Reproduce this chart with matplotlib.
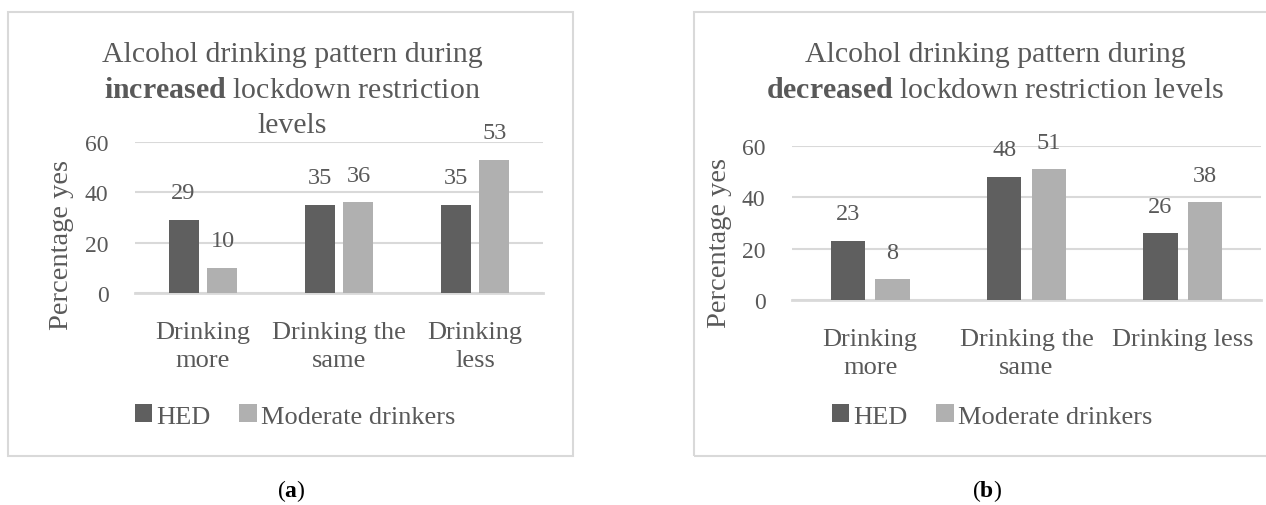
import matplotlib
matplotlib.use("Agg")
from matplotlib import pyplot as plt
from matplotlib import patches as pts
import numpy as np

plt.rcParams['font.family'] = ['Liberation Serif', 'DejaVu Serif']
plt.rcParams['mathtext.fontset'] = 'custom'
plt.rcParams['mathtext.rm'] = 'Liberation Serif'
plt.rcParams['mathtext.bf'] = 'Liberation Serif:bold'

# data
series = ['HED', 'Moderate drinkers']
cats_a = ['Drinking\nmore', 'Drinking the\nsame', 'Drinking\nless']
cats_b = ['Drinking\nmore', 'Drinking the\nsame', 'Drinking less']
hed_a = [29, 35, 35]
mod_a = [10, 36, 53]
hed_b = [23, 48, 26]
mod_b = [8, 51, 38]
title_a = ['Alcohol drinking pattern during',
           r'$\mathbf{increased}$ lockdown restriction', 'levels']
title_b = ['Alcohol drinking pattern during',
           r'$\mathbf{decreased}$ lockdown restriction levels']
yticks = [0, 20, 40, 60]

c_hed = '#5f5f5f'
c_mod = '#b0b0b0'
c_txt = '#595959'
c_grid = '#d9d9d9'

W, H = 1266, 506
fig = plt.figure(figsize=(W/100, H/100), dpi=100)


def fx(x):
    return x/W


def fy(y):
    return 1 - y/H


def panel(box, axbox, cats, hed, mod, title, tcx, ty0, ylab_xy, leg_xy, tag, tag_xy):
    # outer frame
    x0, y0, x1, y1 = box
    fig.add_artist(pts.Rectangle((fx(x0), fy(y1)), fx(x1-x0), (y1-y0)/H,
                                 fill=False, ec=c_grid, lw=1.5,
                                 transform=fig.transFigure))
    l, t, r, b = axbox
    ax = fig.add_axes([fx(l), fy(b), fx(r-l), (b-t)/H])
    x = np.arange(len(cats))
    w = 0.22
    off = 0.143
    b1 = ax.bar(x-off, hed, w, color=c_hed, label=series[0], zorder=3)
    b2 = ax.bar(x+off, mod, w, color=c_mod, label=series[1], zorder=3)
    for bars, vals in ((b1, hed), (b2, mod)):
        for rect, v in zip(bars, vals):
            ax.annotate(str(v), (rect.get_x()+rect.get_width()/2, v),
                        xytext=(0, 19.5), textcoords='offset points',
                        ha='center', va='center', fontsize=17.5, color=c_txt)
    ax.set_ylim(0, 60)
    ax.set_xlim(-0.5, len(cats)-0.5)
    ax.set_yticks(yticks)
    ax.set_xticks(x)
    ax.set_xticklabels(cats, fontsize=19, color=c_txt, linespacing=1.38)
    ax.tick_params(axis='y', length=0, pad=19, labelsize=17, labelcolor=c_txt)
    ax.tick_params(axis='x', length=0, pad=20)
    ax.yaxis.grid(True, color=c_grid, lw=1.5, zorder=0)
    for s in ['top', 'right', 'left']:
        ax.spines[s].set_visible(False)
    ax.spines['bottom'].set_color(c_grid)
    ax.spines['bottom'].set_linewidth(2)
    ax.set_facecolor('none')

    for i, line in enumerate(title):
        fig.text(fx(tcx), fy(ty0 + i*35.5), line, ha='center', va='center',
                 fontsize=21.5, color=c_txt)
    fig.text(fx(ylab_xy[0]), fy(ylab_xy[1]), 'Percentage yes', rotation=90,
             ha='center', va='center', fontsize=20.5, color=c_txt)
    fig.legend(handles=[b1, b2], loc='center',
               bbox_to_anchor=(fx(leg_xy[0]), fy(leg_xy[1])), ncol=2,
               frameon=False, fontsize=19, labelcolor=c_txt,
               handlelength=0.65, handleheight=0.65, handletextpad=0.15,
               columnspacing=1.1, borderaxespad=0)
    fig.text(fx(tag_xy[0]), fy(tag_xy[1]), tag, ha='center', va='center',
             fontsize=17, color='black')
    return ax


panel((8, 13, 573, 457), (135, 143, 543, 294), cats_a, hed_a, mod_a,
      title_a, 292, 55, (62, 245), (295, 417), r'($\mathbf{a}$)', (291, 491))
panel((694, 13, 1275, 457), (792, 147, 1261, 301), cats_b, hed_b, mod_b,
      title_b, 995, 55, (720, 243), (992, 417), r'($\mathbf{b}$)', (987, 491))

fig.savefig('out.png', dpi=100)
